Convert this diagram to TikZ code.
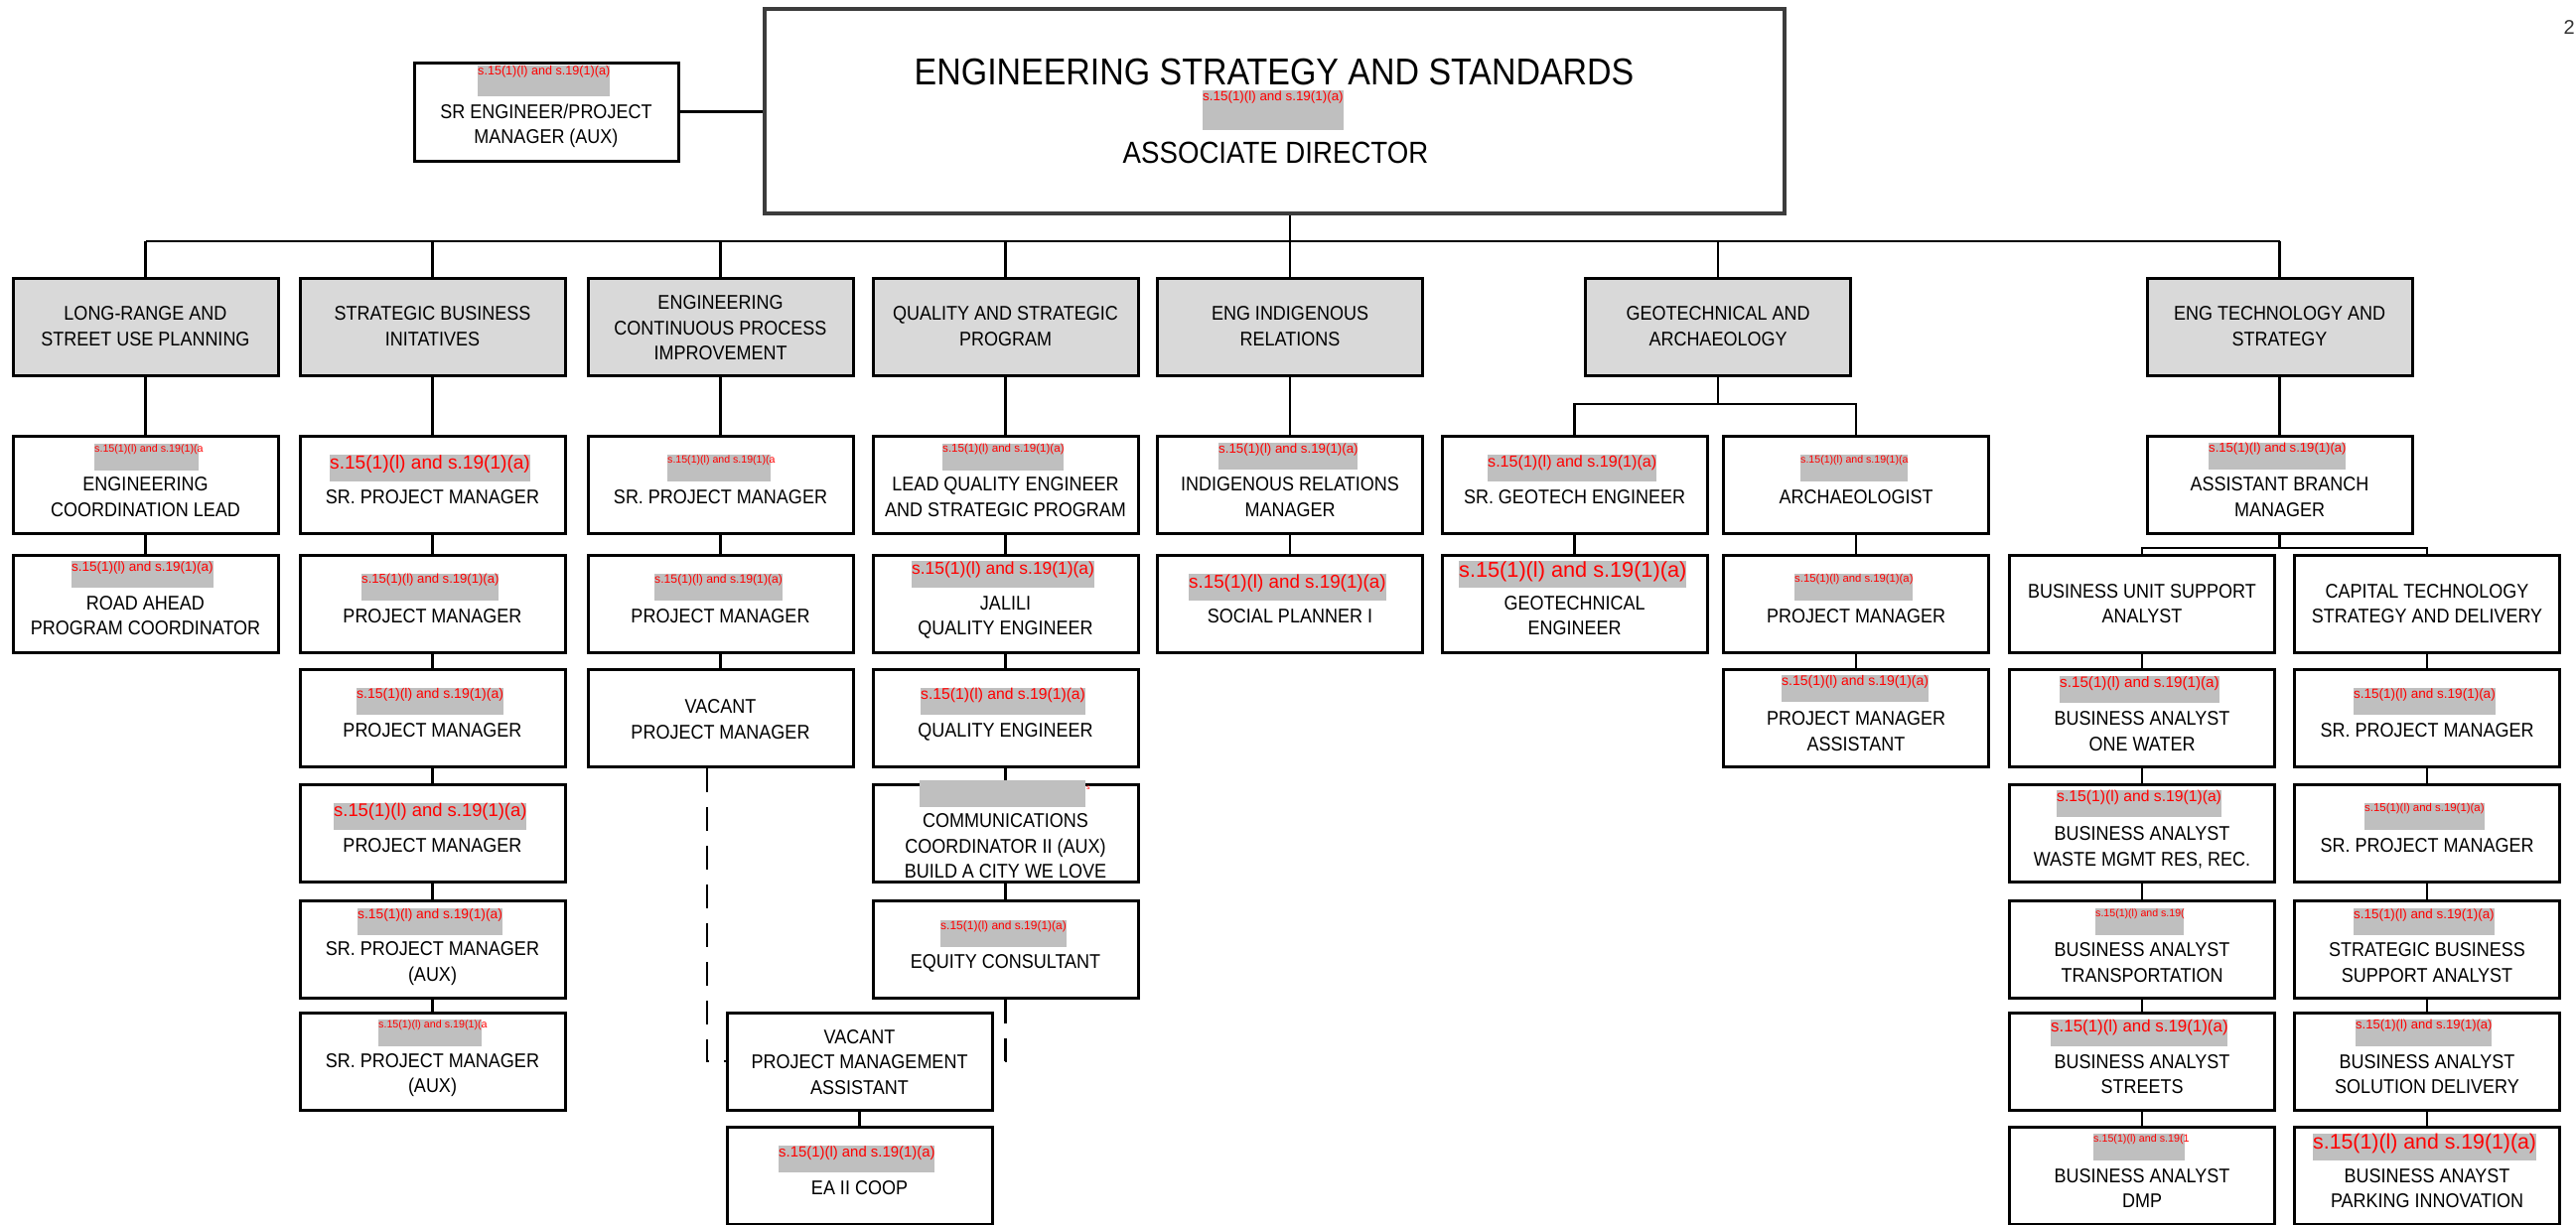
\documentclass[tikz,border=0pt]{standalone}
\usepackage{fontspec}
\setmainfont{Liberation Sans}
\newfontfamily\ttlfont{Liberation Sans}[FakeStretch=0.9]
\usetikzlibrary{calc}
\definecolor{rdgray}{HTML}{BFBFBF}
\definecolor{rdred}{HTML}{FF0000}
\definecolor{hdrgray}{HTML}{D9D9D9}
\definecolor{topline}{HTML}{3C3C3C}
\newcommand\tl[1]{\begin{tabular}[t]{@{}c@{}}#1\end{tabular}}
\newcommand\RT{s.15(1)(l) and s.19(1)(a)}
\newcommand\RTa{s.15(1)(l) and s.19(1)(a}
% name, x, y, width, height, font size, text
\newcommand\rd[7]{%
  \pgfmathsetlengthmacro\rdh{0.74*#6}%
  \pgfmathsetlengthmacro\rdd{#5-0.74*#6}%
  \node[rdbox,text height=\rdh,text depth=\rdd] (#1) at (#2,#3)
    {\fontsize{#6}{#6}\selectfont\makebox[#4pt][l]{#7}};}
\tikzset{
  bx/.style={draw=black, line width=3pt, inner sep=0pt, minimum width=267,
    minimum height=98, font=\ttlfont\fontsize{20}{25.5}\selectfont},
  hdr/.style={bx, fill=hdrgray},
  o68/.style={text height=68pt, text depth=30pt},
  o56/.style={text height=56pt, text depth=42pt},
  o55/.style={text height=55pt, text depth=43pt},
  o44/.style={text height=44pt, text depth=54pt},
  o43/.style={text height=43pt, text depth=55pt},
  o42/.style={text height=42pt, text depth=56pt},
  o31/.style={text height=31pt, text depth=67pt},
  rdbox/.style={fill=rdgray, inner sep=0pt, anchor=north west, text=rdred, font=\rmfamily},
  ln/.style={line width=2.5pt},
  dsh/.style={line width=2.5pt, dash pattern=on 24pt off 15pt},
}
\begin{document}
\begin{tikzpicture}[x=1pt,y=-1pt]
\useasboundingbox (0,0) rectangle (2594,1234);
% ---------- top ----------
\node[bx, draw=topline, line width=3.5pt, minimum width=1027, minimum height=206] (top) at (1283.5,112) {};
\node[anchor=base, inner sep=0pt, font=\ttlfont\fontsize{37.7}{37.7}\selectfont] (toptitle) at (1283,85) {ENGINEERING STRATEGY AND STANDARDS};
\node[anchor=base, inner sep=0pt, font=\ttlfont\fontsize{30.7}{30.7}\selectfont] (topsub) at (1284.5,164) {ASSOCIATE DIRECTOR};
\node[bx, minimum width=266, minimum height=99, text height=56pt, text depth=43pt] (sreng) at (550,112.5) {\tl{SR ENGINEER/PROJECT\\MANAGER (AUX)}};
\node[anchor=base east, inner sep=0pt, font=\fontsize{20}{20}\selectfont, text=black!80] (pg) at (2593,34) {2};
% ---------- level 1 ----------
\node[hdr,o42] (c1h) at (146.5,329.5) {\tl{LONG-RANGE AND\\STREET USE PLANNING}};
\node[hdr,o42] (c2h) at (435.5,329.5) {\tl{STRATEGIC BUSINESS\\INITATIVES}};
\node[hdr,o31] (c3h) at (725.5,329.5) {\tl{ENGINEERING\\CONTINUOUS PROCESS\\IMPROVEMENT}};
\node[hdr,o42] (c4h) at (1012.5,329.5) {\tl{QUALITY AND STRATEGIC\\PROGRAM}};
\node[hdr,o42] (c5h) at (1299,329.5) {\tl{ENG INDIGENOUS\\RELATIONS}};
\node[hdr,o42] (c6h) at (1730,329.5) {\tl{GEOTECHNICAL AND\\ARCHAEOLOGY}};
\node[hdr,o42] (c7h) at (2295.5,329.5) {\tl{ENG TECHNOLOGY AND\\STRATEGY}};
% ---------- column 1 ----------
\node[bx,o55] (c1a) at (146.5,488.5) {\tl{ENGINEERING\\COORDINATION LEAD}};
\node[bx,o55] (c1b) at (146.5,608) {\tl{ROAD AHEAD\\PROGRAM COORDINATOR}};
% ---------- column 2 ----------
\node[bx,o68] (c2a) at (435.5,488.5) {SR. PROJECT MANAGER};
\node[bx,o68] (c2b) at (435.5,608) {PROJECT MANAGER};
\node[bx,o68] (c2c) at (435.5,723.5) {PROJECT MANAGER};
\node[bx,o68] (c2d) at (435.5,839.5) {PROJECT MANAGER};
\node[bx,o55] (c2e) at (435.5,956.5) {\tl{SR. PROJECT MANAGER\\(AUX)}};
\node[bx,o55] (c2f) at (435.5,1069) {\tl{SR. PROJECT MANAGER\\(AUX)}};
% ---------- column 3 ----------
\node[bx,o68] (c3a) at (725.5,488.5) {SR. PROJECT MANAGER};
\node[bx,o68] (c3b) at (725.5,608) {PROJECT MANAGER};
\node[bx,o44] (c3c) at (725.5,723.5) {\tl{VACANT\\PROJECT MANAGER}};
\node[bx,o31] (c3d) at (865.5,1069) {\tl{VACANT\\PROJECT MANAGEMENT\\ASSISTANT}};
\node[bx,o68] (c3e) at (865.5,1184) {EA II COOP};
% ---------- column 4 ----------
\node[bx,o55] (c4a) at (1012.5,488.5) {\tl{LEAD QUALITY ENGINEER\\AND STRATEGIC PROGRAM}};
\node[bx,o55] (c4b) at (1012.5,608) {\tl{JALILI\\QUALITY ENGINEER}};
\node[bx,o68] (c4c) at (1012.5,723.5) {QUALITY ENGINEER};
\node[bx,o43] (c4d) at (1012.5,839.5) {\tl{COMMUNICATIONS\\COORDINATOR II (AUX)\\BUILD A CITY WE LOVE}};
\node[bx,o68] (c4e) at (1012.5,956.5) {EQUITY CONSULTANT};
% ---------- column 5 ----------
\node[bx,o55] (c5a) at (1299,488.5) {\tl{INDIGENOUS RELATIONS\\MANAGER}};
\node[bx,o68] (c5b) at (1299,608) {SOCIAL PLANNER I};
% ---------- column 6 ----------
\node[bx,o68] (c6a) at (1585.5,488.5) {SR. GEOTECH ENGINEER};
\node[bx,o68] (c6b) at (1869,488.5) {ARCHAEOLOGIST};
\node[bx,o55] (c6c) at (1585.5,608) {\tl{GEOTECHNICAL\\ENGINEER}};
\node[bx,o68] (c6d) at (1869,608) {PROJECT MANAGER};
\node[bx,o56] (c6e) at (1869,723.5) {\tl{PROJECT MANAGER\\ASSISTANT}};
% ---------- column 7 ----------
\node[bx,o55] (c7a) at (2295.5,488.5) {\tl{ASSISTANT BRANCH\\MANAGER}};
\node[bx,o43] (c7l) at (2157,608) {\tl{BUSINESS UNIT SUPPORT\\ANALYST}};
\node[bx,o43] (c7r) at (2444,608) {\tl{CAPITAL TECHNOLOGY\\STRATEGY AND DELIVERY}};
\node[bx,o56] (c7l1) at (2157,723.5) {\tl{BUSINESS ANALYST\\ONE WATER}};
\node[bx,o56] (c7l2) at (2157,839.5) {\tl{BUSINESS ANALYST\\WASTE MGMT RES, REC.}};
\node[bx,o56] (c7l3) at (2157,956.5) {\tl{BUSINESS ANALYST\\TRANSPORTATION}};
\node[bx,o56] (c7l4) at (2157,1069) {\tl{BUSINESS ANALYST\\STREETS}};
\node[bx,o56] (c7l5) at (2157,1184) {\tl{BUSINESS ANALYST\\DMP}};
\node[bx,o68] (c7r1) at (2444,723.5) {SR. PROJECT MANAGER};
\node[bx,o68] (c7r2) at (2444,839.5) {SR. PROJECT MANAGER};
\node[bx,o56] (c7r3) at (2444,956.5) {\tl{STRATEGIC BUSINESS\\SUPPORT ANALYST}};
\node[bx,o56] (c7r4) at (2444,1069) {\tl{BUSINESS ANALYST\\SOLUTION DELIVERY}};
\node[bx,o56] (c7r5) at (2444,1184) {\tl{BUSINESS ANAYST\\PARKING INNOVATION}};
% ---------- connectors ----------
\coordinate (busL) at (146.5,243);
\coordinate (busR) at (2295.5,243);
\draw[ln] (busL) -- (busR);
\draw[ln] (sreng.east) -- (sreng.east -| top.west);
\draw[ln] (top.south -| c5h.north) -- (c5h.north);
\foreach \h in {c1h,c2h,c3h,c4h,c6h,c7h}
  \draw[ln] (\h.north |- busL) -- (\h.north);
\foreach \a/\b in {c1h/c1a,c1a/c1b,
  c2h/c2a,c2a/c2b,c2b/c2c,c2c/c2d,c2d/c2e,c2e/c2f,
  c3h/c3a,c3a/c3b,c3b/c3c,c3d/c3e,
  c4h/c4a,c4a/c4b,c4b/c4c,c4c/c4d,c4d/c4e,
  c5h/c5a,c5a/c5b,
  c6a/c6c,c6b/c6d,c6d/c6e,
  c7h/c7a,
  c7l/c7l1,c7l1/c7l2,c7l2/c7l3,c7l3/c7l4,c7l4/c7l5,
  c7r/c7r1,c7r1/c7r2,c7r2/c7r3,c7r3/c7r4,c7r4/c7r5}
  \draw[ln] (\a.south) -- (\b.north);
\coordinate (g6) at (1730,407);
\draw[ln] (c6h.south) -- (g6);
\draw[ln] (c6a.north) -- (c6a.north |- g6) -- (c6b.north |- g6) -- (c6b.north);
\coordinate (g7) at (2295.5,552);
\draw[ln] (c7a.south) -- (g7);
\draw[ln] (c7l.north) -- (c7l.north |- g7) -- (c7r.north |- g7) -- (c7r.north);
\draw[dsh] ([xshift=-13.5pt]c3c.south) |- (c3d.west);
\draw[dsh] (c4e.south) |- (c3d.east);
% ---------- redactions ----------
\rd{rtop}{1211}{91}{142}{40}{13.4}{\RT}
\rd{rsreng}{481}{66}{133}{31}{12.6}{\RT}
\rd{r1a}{95}{447}{105}{27}{10.7}{\RTa}
\rd{r1b}{72}{565}{143}{27}{13.5}{\RT}
\rd{r2a}{332}{458}{202}{27}{19.1}{\RT}
\rd{r2b}{364}{578}{138}{27}{13.1}{\RT}
\rd{r2c}{359}{693}{148}{27}{14}{\RT}
\rd{r2d}{336}{809}{194}{27}{18.4}{\RT}
\rd{r2e}{360}{915}{146}{27}{13.8}{\RT}
\rd{r2f}{381}{1027}{104}{27}{10.7}{\RTa}
\rd{r3a}{672}{458}{104}{27}{10.6}{\RTa}
\rd{r3b}{659}{578}{129}{27}{12.2}{\RT}
\rd{r3e}{784}{1154}{157}{27}{14.9}{\RT}
\rd{r4a}{949}{447}{122}{27}{11.6}{\RT}
\rd{r4b}{918}{565}{184}{27}{17.4}{\RT}
\rd{r4c}{927}{693}{166}{27}{15.7}{\RT}
\rd{r4d}{926}{786}{167}{27}{10}{}
\node[anchor=base west, inner sep=0pt, text=rdred, font=\fontsize{7}{7}\selectfont] (r4ds) at (1094,795) {s};
\rd{r4e}{947}{927}{127}{27}{12}{\RT}
\rd{r5a}{1227}{446}{140}{27}{13.3}{\RT}
\rd{r5b}{1197}{578}{199}{27}{18.8}{\RT}
\rd{r6a}{1498}{458}{170}{27}{16.1}{\RT}
\rd{r6b}{1813}{458}{108}{27}{10.6}{\RTa}
\rd{r6c}{1469}{565}{229}{27}{21.7}{\RT}
\rd{r6d}{1807}{578}{119}{27}{11.3}{\RT}
\rd{r6e}{1794}{680}{148}{27}{14}{\RT}
\rd{r7a}{2224}{446}{138}{27}{13.1}{\RT}
\rd{r7l1}{2074}{681}{161}{27}{15.2}{\RT}
\rd{r7l2}{2071}{796}{166}{27}{15.7}{\RT}
\rd{r7l3}{2110}{915}{89}{27}{10.6}{s.15(1)(l) and s.19(}
\rd{r7l4}{2065}{1027}{178}{27}{16.9}{\RT}
\rd{r7l5}{2108}{1142}{92}{27}{10.7}{s.15(1)(l) and s.19(1}
\rd{r7r1}{2370}{693}{143}{27}{13.5}{\RT}
\rd{r7r2}{2381}{809}{121}{27}{11.4}{\RT}
\rd{r7r3}{2370}{915}{142}{27}{13.4}{\RT}
\rd{r7r4}{2372}{1027}{137}{27}{13}{\RT}
\rd{r7r5}{2329}{1142}{225}{27}{21.3}{\RT}
\end{tikzpicture}
\end{document}
